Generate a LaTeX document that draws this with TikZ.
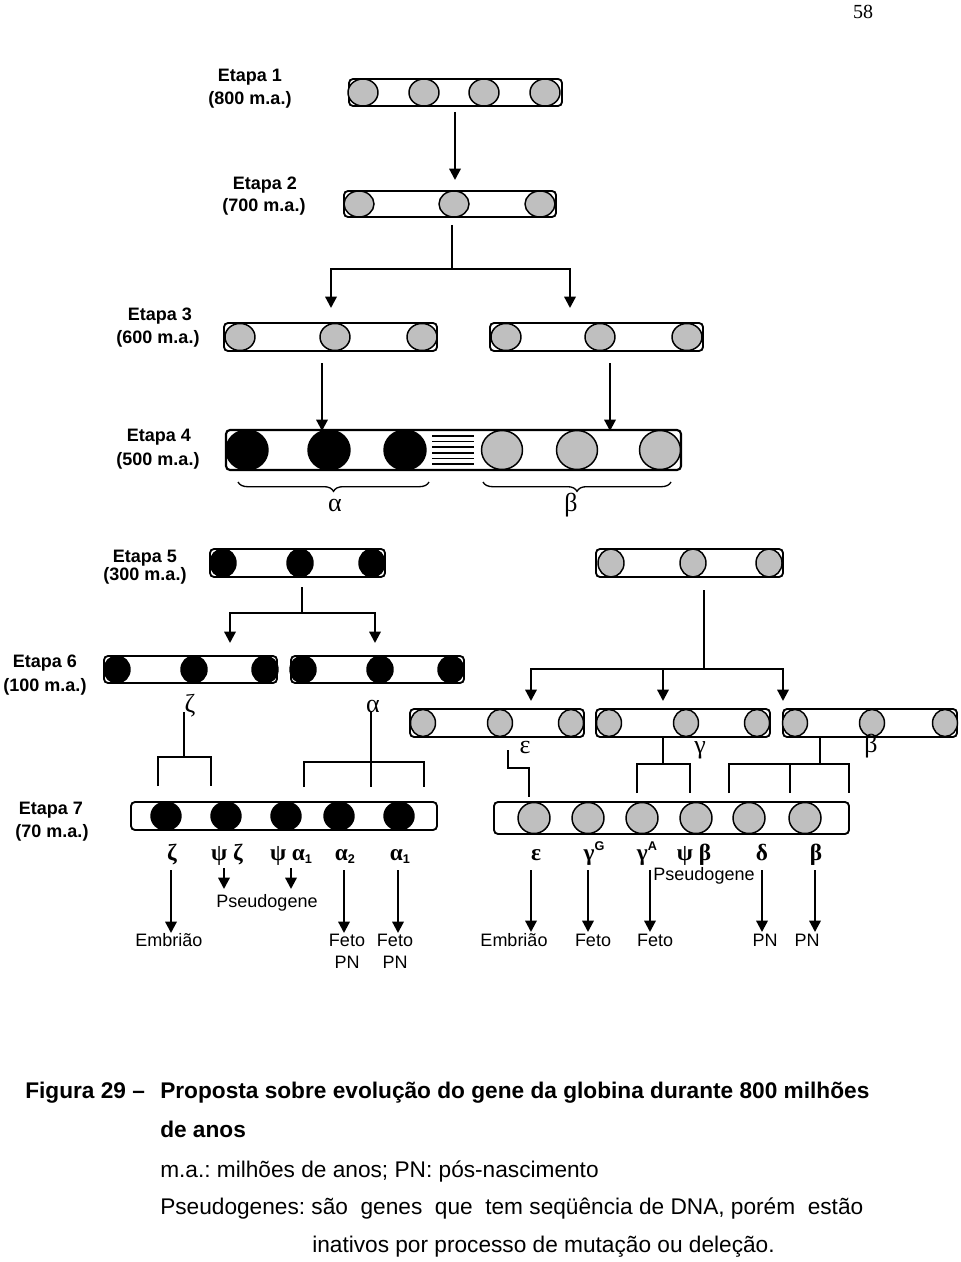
\documentclass[tikz,border=0pt]{standalone}
\usepackage{fontspec}
\setmainfont{Liberation Sans}
\newfontfamily\tms{Liberation Serif}
\usetikzlibrary{arrows.meta,decorations.pathreplacing}
\definecolor{genegray}{RGB}{191,191,191}
\newcommand\subone[1]{\raisebox{-2.5pt}{\rmfamily\bfseries\fontsize{9.5}{10}\selectfont #1}}
\newcommand\supone[1]{\raisebox{7pt}{\rmfamily\bfseries\fontsize{9.5}{10}\selectfont #1}}
\frenchspacing
\begin{document}
\begin{tikzpicture}[x=0.75pt,y=-0.75pt,
  gbar/.style={draw, line width=1.4pt, rounded corners=3pt, fill=white},
  gr/.style={draw, line width=1.1pt, fill=genegray},
  bk/.style={draw, line width=1.1pt, fill=black},
  conn/.style={line width=1.7pt},
  arr/.style={line width=1.7pt, -{Triangle[length=8.5pt,width=8.5pt]}},
  etp/.style={anchor=base, font=\fontsize{13.5}{15}\selectfont\bfseries},
  lbl/.style={anchor=base, font=\fontsize{13.5}{15}\selectfont},
  gk/.style={anchor=base, font=\fontsize{19.5}{21}\selectfont\tms},
  gkb/.style={anchor=base, font=\fontsize{17.5}{19}\selectfont\tms\bfseries},
  captxt/.style={anchor=base west, font=\fontsize{17}{20}\selectfont},
  captb/.style={anchor=base west, font=\fontsize{17}{20}\selectfont\bfseries},
]
\fill[white] (0,0) rectangle (960,1262);
\useasboundingbox (0,0) rectangle (960,1262);

% page number
\node[anchor=base, font=\fontsize{15}{17}\selectfont\tms] (pg) at (863,19) {58};

% stage labels
\node[etp] (e1a) at (250,82) {Etapa 1};
\node[etp] (e1b) at (250,104.5) {(800 m.a.)};
\node[etp] (e2a) at (265,189.5) {Etapa 2};
\node[etp] (e2b) at (264,211.5) {(700 m.a.)};
\node[etp] (e3a) at (160,320.5) {Etapa 3};
\node[etp] (e3b) at (158,343.5) {(600 m.a.)};
\node[etp] (e4a) at (159,441.5) {Etapa 4};
\node[etp] (e4b) at (158,465.5) {(500 m.a.)};
\node[etp] (e5a) at (145,562) {Etapa 5};
\node[etp] (e5b) at (145,580) {(300 m.a.)};
\node[etp] (e6a) at (45,667.5) {Etapa 6};
\node[etp] (e6b) at (45,691.5) {(100 m.a.)};
\node[etp] (e7a) at (51,814.5) {Etapa 7};
\node[etp] (e7b) at (52,837.5) {(70 m.a.)};

% Stage 1
\draw[gbar] (349,79) rectangle (562,106);
\foreach \x in {363,424,484,545} \draw[gr] (\x,92.5) ellipse [x radius=15, y radius=13.5];
% Stage 2
\draw[gbar] (344,191) rectangle (556,217);
\foreach \x in {359,454,540} \draw[gr] (\x,204) ellipse [x radius=15, y radius=13];
\coordinate (a1) at (455,112); \coordinate (a2) at (455,180);
\draw[arr] (a1) -- (a2);

% Stage 2 -> 3
\coordinate (b0) at (452,225); \coordinate (b1) at (452,269);
\coordinate (b2) at (331,308); \coordinate (b3) at (570,308);
\draw[conn] (b0) -- (b1);
\draw[arr] (b1) -| (b2);
\draw[arr] (b1) -| (b3);

% Stage 3
\draw[gbar] (224,323) rectangle (437,351);
\foreach \x in {240,335,422} \draw[gr] (\x,337) ellipse [x radius=15, y radius=13.5];
\draw[gbar] (490,323) rectangle (703,351);
\foreach \x in {506,600,687} \draw[gr] (\x,337) ellipse [x radius=15, y radius=13.5];

% Stage 3 -> 4
\coordinate (c1) at (322,363); \coordinate (c2) at (322,431);
\coordinate (c3) at (610,363); \coordinate (c4) at (610,431);
\draw[arr] (c1) -- (c2);
\draw[arr] (c3) -- (c4);

% Stage 4
\draw[gbar, line width=1.6pt] (226,430) rectangle (681,470);
\foreach \x in {247,329,405} \draw[bk] (\x,450) ellipse [x radius=21, y radius=20];
\foreach \x in {502,577,660} \draw[gr] (\x,450) ellipse [x radius=20.5, y radius=19.5];
\foreach \i in {0,...,5} \draw[line width=1.1pt] (432,436+\i*5.6) -- (474,436+\i*5.6);
\draw[line width=1pt, decorate, decoration={brace, mirror, amplitude=7pt}] (238,482) -- (429,482);
\draw[line width=1pt, decorate, decoration={brace, mirror, amplitude=7pt}] (483,482) -- (671,482);
\node[gk] (la) at (335,511) {α};
\node[gk] (lb) at (571,511) {β};

% Stage 5
\draw[gbar] (210,549) rectangle (385,577);
\foreach \x in {223,300,372} \draw[bk] (\x,563) ellipse [x radius=13, y radius=14];
\draw[gbar] (596,549) rectangle (783,577);
\foreach \x in {611,693,769} \draw[gr] (\x,563) ellipse [x radius=13, y radius=14];

% Stage 5 -> 6 (left)
\coordinate (d0) at (302,587); \coordinate (d1) at (302,613);
\coordinate (d2) at (230,643); \coordinate (d3) at (375,643);
\draw[conn] (d0) -- (d1);
\draw[arr] (d1) -| (d2);
\draw[arr] (d1) -| (d3);
% Stage 5 -> 6 (right)
\coordinate (f0) at (704,590); \coordinate (f1) at (704,669);
\coordinate (f2) at (531,701); \coordinate (f3) at (663,701); \coordinate (f4) at (783,701);
\draw[conn] (f0) -- (f1);
\draw[arr] (f1) -| (f2);
\draw[arr] (f1) -- (663,669) -- (f3);
\draw[arr] (f1) -| (f4);

% Stage 6 left
\draw[gbar] (104,656) rectangle (277,683);
\foreach \x in {117,194,265} \draw[bk] (\x,669.5) ellipse [x radius=13, y radius=13.5];
\draw[gbar] (291,656) rectangle (464,683);
\foreach \x in {303,380,451} \draw[bk] (\x,669.5) ellipse [x radius=13, y radius=13.5];
% Stage 6 right
\draw[gbar] (410,709) rectangle (584,737);
\foreach \x in {423,500,571} \draw[gr] (\x,723) ellipse [x radius=12.5, y radius=13.5];
\draw[gbar] (596,709) rectangle (770,737);
\foreach \x in {609,686,757} \draw[gr] (\x,723) ellipse [x radius=12.5, y radius=13.5];
\draw[gbar] (783,709) rectangle (957,737);
\foreach \x in {795,872,945} \draw[gr] (\x,723) ellipse [x radius=12.5, y radius=13.5];

\node[gk] (lz) at (190,712) {ζ};
\node[gk] (lal) at (373,712) {α};
\node[gk] (le) at (525,753) {ε};
\node[gk] (lg) at (700,753) {γ};
\node[gk] (lbe) at (871,752) {β};

% Stage 6 -> 7 connectors
\draw[conn] (184,712) -- (184,757);
\draw[conn] (158,786) |- (211,757) -- (211,786);
\draw[conn] (371,712) -- (371,787);
\draw[conn] (304,787) |- (424,762) -- (424,787);
\draw[conn] (508,750) -- (508,768) -- (529,768) -- (529,797);
\draw[conn] (663,737) -- (663,764);
\draw[conn] (637,793) |- (690,764) -- (690,793);
\draw[conn] (820,737) -- (820,764);
\draw[conn] (729,793) |- (849,764) -- (849,793);
\draw[conn] (790,764) -- (790,793);

% Stage 7 left
\draw[gbar] (131,802) rectangle (437,830);
\foreach \x in {166,226,286,339,399} \draw[bk] (\x,816) ellipse [x radius=15, y radius=14];
% Stage 7 right
\draw[gbar] (494,802) rectangle (849,834);
\foreach \x in {534,588,642,696,749,805} \draw[gr] (\x,818) ellipse [x radius=16, y radius=15.5];

% Stage 7 labels
\node[gkb] (g1) at (172,860) {ζ};
\node[gkb] (g2) at (227,860) {ψ ζ};
\node[gkb] (g3) at (291,860) {ψ α\subone{1}};
\node[gkb] (g4) at (345,860) {α\subone{2}};
\node[gkb] (g5) at (400,860) {α\subone{1}};
\node[gkb] (h1) at (536,860) {ε};
\node[gkb] (h2) at (594,860) {γ\supone{G}};
\node[gkb] (h3) at (647,860) {γ\supone{A}};
\node[gkb] (h4) at (694,860) {ψ β};
\node[gkb] (h5) at (762,860) {δ};
\node[gkb] (h6) at (816,860) {β};

% Expression arrows left
\draw[arr] (171,870) -- (171,933);
\draw[arr] (224,868) -- (224,889);
\draw[arr] (291,868) -- (291,889);
\draw[arr] (344,870) -- (344,933);
\draw[arr] (398,870) -- (398,933);
\node[lbl] (t1) at (169,946) {Embrião};
\node[lbl] (t2) at (267,907) {Pseudogene};
\node[lbl] (t3) at (347,946) {Feto};
\node[lbl] (t4) at (347,968) {PN};
\node[lbl] (t5) at (395,946) {Feto};
\node[lbl] (t6) at (395,968) {PN};

% Expression arrows right
\draw[arr] (531,870) -- (531,932);
\draw[arr] (588,870) -- (588,932);
\draw[arr] (650,870) -- (650,932);
\draw[arr] (762,870) -- (762,932);
\draw[arr] (815,870) -- (815,932);
\node[lbl] (u0) at (704,880) {Pseudogene};
\node[lbl] (u1) at (514,946) {Embrião};
\node[lbl] (u2) at (593,946) {Feto};
\node[lbl] (u3) at (655,946) {Feto};
\node[lbl] (u4) at (765,946) {PN};
\node[lbl] (u5) at (807,946) {PN};

% Caption
\node[captb, inner sep=0pt] (c1t) at (25,1098) {Figura 29 –};
\node[captb, inner sep=0pt] (c2t) at (160,1098) {Proposta sobre evolução do gene da globina durante 800 milhões};
\node[captb, inner sep=0pt] (c3t) at (160,1137) {de anos};
\node[captxt, inner sep=0pt] (c4t) at (160,1177) {m.a.: milhões de anos; PN: pós-nascimento};
\node[captxt, inner sep=0pt] (c5t) at (160,1214) {Pseudogenes: são\ \ genes\ \ que\ \ tem seqüência de DNA, porém\ \ estão};
\node[captxt, inner sep=0pt] (c6t) at (312,1252) {inativos por processo de mutação ou deleção.};
\end{tikzpicture}
\end{document}
